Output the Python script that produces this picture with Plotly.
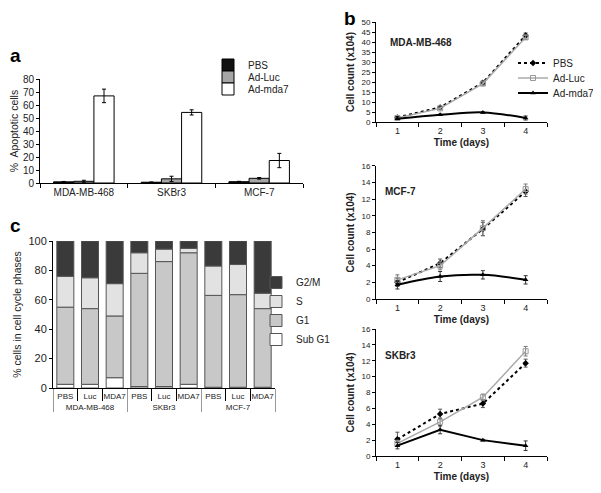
import plotly.graph_objects as go

# The page body keeps its default 8px margin, so the figure starts at (8, 8).
OFF = 8
W, H = 601 - OFF, 493 - OFF
FONT = "Liberation Sans, Arial, sans-serif"

# ---------------- Panel a data ----------------
cells_a = ["MDA-MB-468", "SKBr3", "MCF-7"]
pbs_a = [0.9, 0.6, 1.0]
pbs_a_err = [0.3, 0.2, 0.3]
luc_a = [1.3, 3.2, 3.6]
luc_a_err = [0.8, 2.0, 0.6]
mda7_a = [67.0, 54.3, 17.3]
mda7_a_err = [5.2, 2.0, 5.5]

# ---------------- Panel b data ----------------
days = [1, 2, 3, 4]
mda_pbs = [2.3, 7.3, 19.6, 43.3]
mda_pbs_err = [0.3, 0.5, 0.8, 1.2]
mda_luc = [2.0, 6.8, 19.2, 42.3]
mda_luc_err = [0.3, 0.5, 0.8, 1.0]
mda_mda7 = [1.6, 3.6, 4.8, 2.0]
mda_mda7_err = [0.2, 0.3, 0.3, 1.0]

mcf_pbs = [2.0, 4.3, 8.4, 12.9]
mcf_pbs_err = [0.5, 0.5, 0.8, 0.6]
mcf_luc = [2.3, 4.0, 8.5, 13.2]
mcf_luc_err = [0.6, 0.5, 0.9, 0.6]
mcf_mda7 = [1.7, 2.7, 2.9, 2.3]
mcf_mda7_err = [0.5, 0.6, 0.5, 0.5]

sk_pbs = [2.1, 5.3, 6.6, 11.7]
sk_pbs_err = [0.9, 0.6, 0.5, 0.5]
sk_luc = [1.6, 4.3, 7.4, 13.2]
sk_luc_err = [0.4, 0.5, 0.4, 0.6]
sk_mda7 = [1.3, 3.3, 2.0, 1.3]
sk_mda7_err = [0.4, 0.5, 0.1, 0.6]

# ---------------- Panel c data ----------------
cells_c = ["MDA-MB-468"] * 3 + ["SKBr3"] * 3 + ["MCF-7"] * 3
treat_c = ["PBS", "Luc", "MDA7"] * 3
subg1_c = [2.5, 2.5, 7.0, 1.0, 1.0, 2.5, 0.5, 0.5, 0.5]
g1_c = [52.5, 51.5, 42.0, 77.0, 85.0, 89.5, 62.5, 63.0, 53.5]
s_c = [21.0, 21.0, 22.0, 14.0, 8.5, 3.0, 20.0, 20.5, 10.5]
g2m_c = [24.0, 25.0, 29.0, 8.0, 5.5, 5.0, 17.0, 16.0, 35.5]


def px_x(p):
    return (p - OFF) / W


def px_y(p):
    return 1 - (p - OFF) / H


fig = go.Figure()

# ---- panel a bars (one legend per item for tight spacing) ----
ebar = dict(type="data", color="black", thickness=1, width=2)
for name, vals, errs, col, lg in [
    ("PBS", pbs_a, pbs_a_err, "#111111", "legend"),
    ("Ad-Luc", luc_a, luc_a_err, "#a6a6a6", "legend4"),
    ("Ad-mda7", mda7_a, mda7_a_err, "#ffffff", "legend5"),
]:
    fig.add_trace(go.Bar(
        x=cells_a, y=vals, name=name, xaxis="x", yaxis="y",
        marker=dict(color=col, line=dict(color="black", width=1)),
        error_y=dict(array=errs, **ebar), legend=lg, showlegend=True,
    ))

# ---- panel c stacked bars ----
xc = [cells_c, treat_c]
base = [0.0] * 9
for name, vals, col in [
    ("Sub G1", subg1_c, "#ffffff"),
    ("G1", g1_c, "#c8c8c8"),
    ("S", s_c, "#e2e2e2"),
    ("G2/M", g2m_c, "#3a3a3a"),
]:
    fig.add_trace(go.Bar(
        x=xc, y=vals, base=list(base), name=name, xaxis="x2", yaxis="y2",
        offsetgroup="c",
        marker=dict(color=col, line=dict(color="#555555", width=1)),
        legend="legend3",
    ))
    base = [b + v for b, v in zip(base, vals)]

# ---- panel b lines ----
panels_b = [
    ("x3", "y3", mda_pbs, mda_pbs_err, mda_luc, mda_luc_err, mda_mda7, mda_mda7_err, "spline"),
    ("x4", "y4", mcf_pbs, mcf_pbs_err, mcf_luc, mcf_luc_err, mcf_mda7, mcf_mda7_err, "spline"),
    ("x5", "y5", sk_pbs, sk_pbs_err, sk_luc, sk_luc_err, sk_mda7, sk_mda7_err, "linear"),
]
for i, (xa, ya, p, pe, l, le, m, me, shp) in enumerate(panels_b):
    show = i == 0
    fig.add_trace(go.Scatter(
        x=days, y=p, name="PBS", xaxis=xa, yaxis=ya, mode="lines+markers",
        line=dict(color="black", width=2, dash="dot"),
        marker=dict(symbol="diamond", size=5, color="black"),
        error_y=dict(array=pe, type="data", color="#555", thickness=1, width=2),
        showlegend=show, legend="legend2",
    ))
    fig.add_trace(go.Scatter(
        x=days, y=l, name="Ad-Luc", xaxis=xa, yaxis=ya, mode="lines+markers",
        line=dict(color="#aaaaaa", width=1.5),
        marker=dict(symbol="square-open", size=5, color="#999999"),
        error_y=dict(array=le, type="data", color="#777", thickness=1, width=2),
        showlegend=show, legend="legend6",
    ))
    fig.add_trace(go.Scatter(
        x=days, y=m, name="Ad-mda7", xaxis=xa, yaxis=ya, mode="lines+markers",
        line=dict(color="black", width=2, shape=shp),
        marker=dict(symbol="triangle-up", size=5, color="black"),
        error_y=dict(array=me, type="data", color="#333", thickness=1, width=2),
        showlegend=show, legend="legend7",
    ))

axis_common = dict(showline=True, linecolor="black", linewidth=1, showgrid=False,
                   zeroline=False, ticks="outside", tickcolor="black", automargin=False)


def one_legend(xp, yp):
    return dict(x=px_x(xp), y=px_y(yp), xanchor="left", yanchor="middle",
                font=dict(size=10), bgcolor="rgba(0,0,0,0)", itemwidth=30)


layout = dict(
    template="none",
    width=W, height=H, margin=dict(l=0, r=0, t=0, b=0, autoexpand=False),
    paper_bgcolor="white", plot_bgcolor="white", showlegend=True,
    font=dict(family=FONT, color="#222222", size=10),
    barmode="group", bargap=0.31, bargroupgap=0,
    # panel a
    xaxis=dict(domain=[px_x(40), px_x(303)], anchor="y", tickson="boundaries",
               ticklen=4, tickfont=dict(size=10), **axis_common),
    yaxis=dict(domain=[px_y(183), px_y(79)], anchor="x", range=[0, 80], dtick=10,
               ticklen=3, tickfont=dict(size=10),
               title=dict(text="%  Apoptotic cells", font=dict(size=10.5), standoff=6),
               **axis_common),
    # panel c
    xaxis2=dict(domain=[px_x(53), px_x(275)], anchor="y2", type="multicategory",
                tickson="boundaries", ticklen=12, tickangle=0, tickfont=dict(size=8),
                showdividers=True, dividercolor="#999999", dividerwidth=1,
                **axis_common),
    yaxis2=dict(domain=[px_y(388), px_y(241)], anchor="x2", range=[0, 100], dtick=20,
                ticklen=3, tickfont=dict(size=11),
                title=dict(text="% cells in cell cycle phases", font=dict(size=10.5), standoff=4),
                **axis_common),
    legend=one_legend(208, 65),
    legend4=one_legend(208, 77),
    legend5=one_legend(208, 89),
    legend2=one_legend(513, 63),
    legend6=one_legend(513, 78),
    legend7=one_legend(513, 93),
    legend3=dict(x=px_x(256), y=px_y(268), xanchor="left", yanchor="top",
                 font=dict(size=10), bgcolor="rgba(0,0,0,0)", traceorder="reversed",
                 itemwidth=30),
)

b_domains = [(122, 22, [0, 50], 5), (299, 165.7, [0, 16], 2), (456, 329, [0, 16], 2)]
for i, (bot, top, rng, dt) in enumerate(b_domains):
    n = i + 3
    layout[f"xaxis{n}"] = dict(
        domain=[px_x(376), px_x(547)], anchor=f"y{n}", range=[0.5, 4.5],
        tickvals=days, ticks="", tickfont=dict(size=9),
        minor=dict(tickvals=[0.5, 1.5, 2.5, 3.5, 4.5], ticks="outside", ticklen=4,
                   tickcolor="black"),
        title=dict(text="<b>Time (days)</b>", font=dict(size=10), standoff=4),
        showline=True, linecolor="black", showgrid=False, zeroline=False, automargin=False,
    )
    layout[f"yaxis{n}"] = dict(
        domain=[px_y(bot), px_y(top)], anchor=f"x{n}", range=rng, dtick=dt,
        ticklen=3, tickfont=dict(size=8),
        title=dict(text="<b>Cell count (x104)</b>", font=dict(size=10), standoff=4),
        **axis_common,
    )

fig.update_layout(**layout)

annos = [
    dict(text="<b>a</b>", x=0, y=px_y(56), font=dict(size=19, color="black")),
    dict(text="<b>b</b>", x=px_x(342), y=px_y(18), font=dict(size=19, color="black")),
    dict(text="<b>c</b>", x=0, y=px_y(226), font=dict(size=19, color="black")),
]
for a in annos:
    fig.add_annotation(xref="paper", yref="paper", xanchor="left", yanchor="middle",
                       showarrow=False, **a)

for xa, ya, lbl, xx, yy in [("x3", "y3", "MDA-MB-468", 0.07, 0.80),
                             ("x4", "y4", "MCF-7", 0.04, 0.81),
                             ("x5", "y5", "SKBr3", 0.04, 0.795)]:
    fig.add_annotation(xref=f"{xa} domain", yref=f"{ya} domain", x=xx, y=yy,
                       text=f"<b>{lbl}</b>", showarrow=False, xanchor="left",
                       yanchor="middle", font=dict(size=10, color="#222"))

fig.write_html("out.html")
